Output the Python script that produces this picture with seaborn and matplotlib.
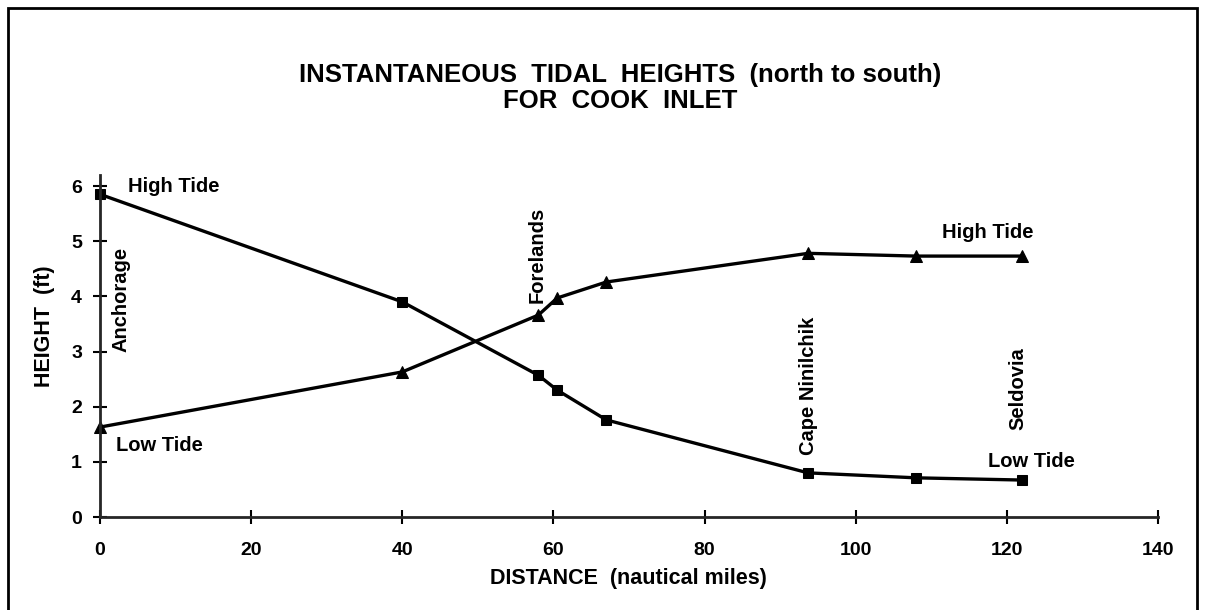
import pandas as pd
import seaborn as sns
import matplotlib.pyplot as plt
from matplotlib.patches import Rectangle

# distance along the inlet (nautical miles)
distance = [0, 40, 58, 60.5, 67, 93.7, 108, 122]
# high tide at Anchorage end (squares)
height_a = [5.85, 3.9, 2.57, 2.3, 1.76, 0.8, 0.71, 0.67]
# low tide at Anchorage end (triangles)
height_b = [1.63, 2.63, 3.66, 3.97, 4.26, 4.78, 4.73, 4.73]

x_ticks = [0, 20, 40, 60, 80, 100, 120, 140]
y_ticks = [0, 1, 2, 3, 4, 5, 6]

df = pd.DataFrame({"Distance": distance, "A": height_a, "B": height_b})

sns.set_style("ticks")
plt.rcParams["font.family"] = ["Liberation Sans", "DejaVu Sans"]
plt.rcParams["text.color"] = "black"
plt.rcParams["axes.labelcolor"] = "black"
plt.rcParams["xtick.color"] = "black"
plt.rcParams["ytick.color"] = "black"

fig = plt.figure(figsize=(12.05, 6.1), dpi=100)
ax = fig.add_axes([100 / 1205, 1 - 517 / 610, 1058 / 1205, 342 / 610])

sns.lineplot(data=df, x="Distance", y="A", marker="s", markersize=7, color="black",
             linewidth=2.4, markeredgecolor="black", clip_on=False, ax=ax)
sns.lineplot(data=df, x="Distance", y="B", marker="^", markersize=8, color="black",
             linewidth=2.4, markeredgecolor="black", clip_on=False, ax=ax)

ax.set_xlim(0, 140)
ax.set_ylim(0, 6.2)
ax.set_xticks(x_ticks)
ax.set_yticks(y_ticks)
ax.tick_params(direction="inout", length=10, width=1.5, labelsize=14)
ax.tick_params(axis="x", pad=13)
ax.tick_params(axis="y", pad=8)
for lbl in ax.get_xticklabels() + ax.get_yticklabels():
    lbl.set_fontweight("bold")
for s in ["top", "right"]:
    ax.spines[s].set_visible(False)
for s in ["left", "bottom"]:
    ax.spines[s].set_linewidth(2)
ax.set_xlabel("DISTANCE  (nautical miles)", fontsize=15.5, fontweight="bold")
ax.set_ylabel("HEIGHT  (ft)", fontsize=15.5, fontweight="bold")
ax.xaxis.set_label_coords((628 - 100) / 1058, -(568 - 517) / 342)
ax.yaxis.set_label_coords(-(100 - 55) / 1058, (517 - 326) / 342)

fig.text(0.515, 1 - 88 / 610, "INSTANTANEOUS  TIDAL  HEIGHTS  (north to south)\nFOR  COOK  INLET",
         ha="center", va="center", fontsize=18.5, fontweight="bold", linespacing=1.1)

kw = dict(fontsize=14.5, fontweight="bold", ha="center", va="center")
ax.text(9.8, 6.0, "High Tide", **kw)
ax.text(7.8, 1.3, "Low Tide", **kw)
ax.text(117.5, 5.16, "High Tide", **kw)
ax.text(123.3, 1.0, "Low Tide", **kw)
ax.text(2.8, 3.95, "Anchorage", rotation=90, **kw)
ax.text(57.8, 4.75, "Forelands", rotation=90, **kw)
ax.text(93.7, 2.37, "Cape Ninilchik", rotation=90, **kw)
ax.text(121.5, 2.32, "Seldovia", rotation=90, **kw)

fig.patches.append(Rectangle((8 / 1205, -0.05), 1189 / 1205, 1.05 - 8 / 610, transform=fig.transFigure,
                             fill=False, edgecolor="black", linewidth=2))

fig.savefig("out.png", dpi=100)
